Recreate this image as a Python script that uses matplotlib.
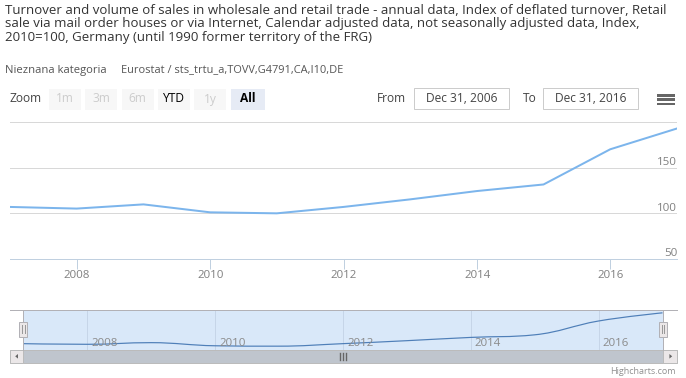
"""Highcharts-style stock chart: German mail-order retail turnover index."""

import datetime as dt

import matplotlib

matplotlib.use("Agg")
import matplotlib.pyplot as plt
from matplotlib.patches import PathPatch, Polygon, Rectangle
from matplotlib.path import Path
from matplotlib.transforms import blended_transform_factory, offset_copy


W, H = 686, 378

TITLE_LINES = [
    "Turnover and volume of sales in wholesale and retail trade - annual data, Index of deflated turnover, Retail",
    "sale via mail order houses or via Internet, Calendar adjusted data, not seasonally adjusted data, Index,",
    "2010=100, Germany (until 1990 former territory of the FRG)",
]
SUBTITLE_LEFT = "Nieznana kategoria"
SUBTITLE_RIGHT = "Eurostat / sts_trtu_a,TOVV,G4791,CA,I10,DE"

YEARS = [2006, 2007, 2008, 2009, 2010, 2011, 2012, 2013, 2014, 2015, 2016]
VALUES = [107.0, 105.2, 109.8, 101.1, 100.0, 107.0, 115.3, 124.4, 131.6, 170.1, 192.9]
Y_TICKS = [50, 100, 150]
Y_TOP = 200
X_TICK_YEARS = [2008, 2010, 2012, 2014, 2016]

ZOOM_BUTTONS = ["1m", "3m", "6m", "YTD", "1y", "All"]
ZOOM_ENABLED = [False, False, False, True, False, True]
RANGE_FROM = "Dec 31, 2006"
RANGE_TO = "Dec 31, 2016"

FONT = "Open Sans"
LINE_COLOR = "#7cb5ec"
NAV_LINE_COLOR = "#4f7fb8"
MASK_COLOR = "#d9e8f9"


def px_rect(x0, y0, x1, y1):
    return [x0 / W, 1 - y1 / H, (x1 - x0) / W, (y1 - y0) / H]


def pt(px):
    return px * 0.72


def spline_path(xs, ys, smoothing=1.5):
    # Same control-point rule Highcharts uses for its spline series.
    denom = smoothing + 1
    n = len(xs)
    left, right = [None] * n, [None] * n
    for i in range(n):
        if 0 < i < n - 1:
            lx = (smoothing * xs[i] + xs[i - 1]) / denom
            ly = (smoothing * ys[i] + ys[i - 1]) / denom
            rx = (smoothing * xs[i] + xs[i + 1]) / denom
            ry = (smoothing * ys[i] + ys[i + 1]) / denom
            if rx != lx:
                corr = (ry - ly) * (rx - xs[i]) / (rx - lx) + ys[i] - ry
                ly += corr
                ry += corr
            if ly > ys[i - 1] and ly > ys[i]:
                ly = max(ys[i - 1], ys[i])
                ry = 2 * ys[i] - ly
            elif ly < ys[i - 1] and ly < ys[i]:
                ly = min(ys[i - 1], ys[i])
                ry = 2 * ys[i] - ly
            if ry > ys[i + 1] and ry > ys[i]:
                ry = max(ys[i + 1], ys[i])
                ly = 2 * ys[i] - ry
            elif ry < ys[i + 1] and ry < ys[i]:
                ry = min(ys[i + 1], ys[i])
                ly = 2 * ys[i] - ry
            left[i], right[i] = (lx, ly), (rx, ry)
        else:
            left[i] = right[i] = (xs[i], ys[i])
    verts = [(xs[0], ys[0])]
    codes = [Path.MOVETO]
    for i in range(1, n):
        verts += [right[i - 1], left[i], (xs[i], ys[i])]
        codes += [Path.CURVE4] * 3
    return Path(verts, codes)


def main():
    plt.rcParams["font.family"] = [FONT, "DejaVu Sans"]
    fig = plt.figure(figsize=(W / 100, H / 100), dpi=100)

    dates = [dt.datetime(year, 12, 31) for year in YEARS]
    xnum = matplotlib.dates.date2num(dates)
    tick_dates = [dt.datetime(year, 1, 1) for year in X_TICK_YEARS]

    # main plot
    ax = fig.add_axes(px_rect(10, 122, 677, 259))
    ax.plot(dates, VALUES, color=LINE_COLOR, lw=pt(2), solid_joinstyle="round")
    ax.set_xlim(dates[0], dates[-1])
    ax.set_ylim(Y_TICKS[0], Y_TOP)
    for value in Y_TICKS[1:] + [Y_TOP]:
        ax.axhline(value, color="#d8d8d8", lw=pt(1), zorder=0)
    for side in ("top", "left", "right"):
        ax.spines[side].set_visible(False)
    ax.spines["bottom"].set_color("#c0d0e0")
    ax.spines["bottom"].set_linewidth(pt(1))
    ax.set_yticks([])
    ax.set_xticks(tick_dates, [str(y) for y in X_TICK_YEARS])
    ax.tick_params(axis="x", length=pt(9.5), width=pt(1), color="#c0d0e0",
                   labelcolor="#808080", labelsize=pt(11.5), pad=0.8)
    for label in ax.get_xticklabels():
        label.set_fontfamily(FONT)
    ylab = offset_copy(blended_transform_factory(ax.transAxes, ax.transData),
                       fig=fig, x=0, y=2.5, units="dots")
    for value in Y_TICKS:
        ax.text(1.0, value, str(value), transform=ylab, ha="right", va="baseline",
                color="#808080", fontsize=pt(11.5))

    # navigator
    nav = fig.add_axes(px_rect(23.3, 309.5, 662.5, 349.5))
    nav.set_facecolor(MASK_COLOR)
    for side in nav.spines.values():
        side.set_visible(False)
    nav.set_xticks([])
    nav.set_yticks([])
    nav.set_xlim(xnum[0], xnum[-1])
    span = max(VALUES) - min(VALUES)
    nav.set_ylim(min(VALUES) - 0.1 * span, max(VALUES) + 0.1 * span)
    for d in tick_dates:
        nav.axvline(matplotlib.dates.date2num(d), color="#c6d5e8", lw=pt(1), zorder=0)
    nav.add_patch(PathPatch(spline_path(list(xnum), VALUES), facecolor="none",
                            edgecolor=NAV_LINE_COLOR, lw=pt(1.2)))
    navlab = offset_copy(blended_transform_factory(nav.transData, nav.transAxes),
                         fig=fig, x=4, y=4, units="dots")
    for d, year in zip(tick_dates, X_TICK_YEARS):
        nav.text(matplotlib.dates.date2num(d), 0, str(year), transform=navlab,
                 ha="left", va="baseline", color="#8a8a8a", fontsize=pt(11.5))

    # overlay in pixel coordinates for the html-like widgets
    ov = fig.add_axes([0, 0, 1, 1], zorder=10)
    ov.set_xlim(0, W)
    ov.set_ylim(H, 0)
    ov.axis("off")
    ov.patch.set_visible(False)

    for i, line in enumerate(TITLE_LINES):
        ov.text(5, 10 + 14 * i, line, ha="left", va="center", color="#333333",
                fontsize=pt(13.3))
    ov.text(5, 70, SUBTITLE_LEFT, ha="left", va="center", color="#555555",
            fontsize=pt(11.3))
    ov.text(121, 70, SUBTITLE_RIGHT, ha="left", va="center", color="#555555",
            fontsize=pt(11))

    # range selector
    ov.text(10, 98.5, "Zoom", ha="left", va="center", color="#444444", fontsize=pt(12))
    bx = 49
    for label, enabled in zip(ZOOM_BUTTONS, ZOOM_ENABLED):
        width = 34 if label == "All" else 32
        selected = label == "All"
        ov.add_patch(Rectangle((bx, 88.5), width, 21, lw=0,
                               fc="#e6ebf5" if selected else "#f7f7f7"))
        ov.text(bx + width / 2, 99, label, ha="center", va="center",
                color="#000000" if enabled else "#cccccc",
                fontweight="bold" if selected else "normal", fontsize=pt(12))
        bx += width + 4.3
    ov.text(377, 98.5, "From", ha="left", va="center", color="#444444", fontsize=pt(12))
    ov.text(523, 98.5, "To", ha="left", va="center", color="#444444", fontsize=pt(12))
    for x0, text in ((414.3, RANGE_FROM), (543.3, RANGE_TO)):
        ov.add_patch(Rectangle((x0, 88.3), 94.5, 21, fc="white", ec="#cccccc", lw=pt(1)))
        ov.text(x0 + 47.2, 98.5, text, ha="center", va="center", color="#444444",
                fontsize=pt(12))
    for y0 in (94, 98.4, 102.8):
        ov.add_patch(Rectangle((657, y0), 18, 2.6, fc="#666666", lw=0))

    # navigator outline and handles
    ov.plot([10, 677], [309.5, 309.5], color="#b2b1b6", lw=pt(1))
    for x0 in (23.3, 662.5):
        ov.plot([x0, x0], [309.5, 349.5], color="#b2b1b6", lw=pt(1))
        ov.add_patch(Rectangle((x0 - 4, 321.5), 8, 15, fc="#ebe7e8", ec="#b2b1b6",
                               lw=pt(1), zorder=5))
        for gx in (x0 - 1, x0 + 1.2):
            ov.plot([gx, gx], [325, 333], color="#999999", lw=pt(1), zorder=6)

    # scrollbar
    ov.add_patch(Rectangle((10, 349.5), 667, 13.5, fc="#eeeeee", ec="#cccccc", lw=pt(1)))
    ov.add_patch(Rectangle((23.3, 349.5), 639.2, 13.5, fc="#bfc5cd", ec="#bbbbbb", lw=pt(1)))
    ov.add_patch(Rectangle((10, 349.5), 13.3, 13.5, fc="#ebe7e8", ec="#bbbbbb", lw=pt(1)))
    ov.add_patch(Rectangle((662.5, 349.5), 14.5, 13.5, fc="#ebe7e8", ec="#bbbbbb", lw=pt(1)))
    ov.add_patch(Polygon([(15.2, 356.3), (18, 354), (18, 358.6)], fc="#666666", lw=0))
    ov.add_patch(Polygon([(672.2, 356.3), (669.4, 354), (669.4, 358.6)], fc="#666666", lw=0))
    for rx in (340, 343, 346):
        ov.plot([rx, rx], [352.8, 359.5], color="#666666", lw=pt(1.4))

    ov.text(676, 371.5, "Highcharts.com", ha="right", va="center", color="#909090",
            fontsize=pt(9))

    fig.savefig("out.png", dpi=100)


if __name__ == "__main__":
    main()
